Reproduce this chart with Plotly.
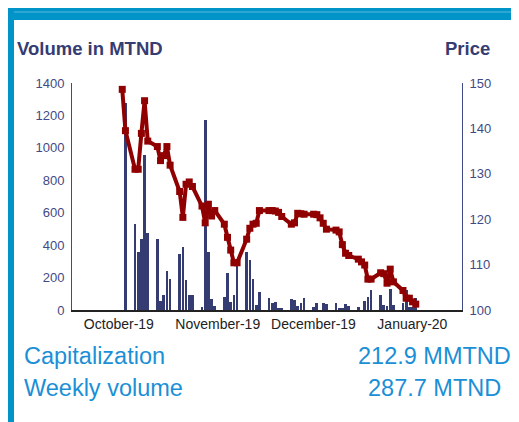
import plotly.graph_objects as go

# daily data (price in TND, volume in thousand TND)
dates = [
    "2019-10-03", "2019-10-04",
    "2019-10-07", "2019-10-08", "2019-10-09", "2019-10-10", "2019-10-11",
    "2019-10-14", "2019-10-15", "2019-10-16", "2019-10-17", "2019-10-18",
    "2019-10-21", "2019-10-22", "2019-10-23", "2019-10-24", "2019-10-25",
    "2019-10-28", "2019-10-29", "2019-10-30", "2019-10-31", "2019-11-01",
    "2019-11-04", "2019-11-05", "2019-11-06", "2019-11-07", "2019-11-08",
    "2019-11-11", "2019-11-12", "2019-11-13", "2019-11-14", "2019-11-15",
    "2019-11-18", "2019-11-19", "2019-11-20", "2019-11-21", "2019-11-22",
    "2019-11-25", "2019-11-26", "2019-11-27", "2019-11-28", "2019-11-29",
    "2019-12-02", "2019-12-03", "2019-12-04", "2019-12-05", "2019-12-06",
    "2019-12-09", "2019-12-10", "2019-12-11", "2019-12-12", "2019-12-13",
    "2019-12-16", "2019-12-17", "2019-12-18", "2019-12-19", "2019-12-20",
    "2019-12-23", "2019-12-24", "2019-12-25", "2019-12-26", "2019-12-27",
    "2019-12-30", "2019-12-31", "2020-01-01", "2020-01-02", "2020-01-03",
]
price = [
    148.6, 139.5,
    131.0, 131.0, 138.9, 146.1, 137.2,
    136.0, 132.9, 134.0, 136.0, 131.9,
    126.1, 120.4, 127.7, 128.2, 127.2,
    122.9, 119.2, 123.3, 120.7, 121.9,
    118.9, 116.0, 113.2, 110.4, 110.4,
    115.6, 118.0, 118.9, 119.1, 121.9,
    121.9, 121.9, 121.8, 121.5, 120.6,
    118.9, 119.2, 121.3, 121.2, 121.1,
    121.1, 121.0, 120.3, 119.1, 117.8,
    117.6, 117.2, 114.4, 112.5, 112.0,
    111.2, 110.6, 109.9, 106.8, 106.8,
    108.2, 108.0, 105.9, 109.0, 106.2,
    104.3, 102.6, 102.6, 101.8, 101.3,
]
volume = [
    0, 1279,
    531, 358, 436, 956, 473,
    436, 58, 92, 241, 189,
    345, 389, 185, 92, 92,
    20, 1172, 360, 68, 25,
    82, 230, 51, 92, 290,
    360, 306, 193, 31, 113,
    74, 45, 51, 10, 10,
    70, 62, 25, 41, 72,
    20, 45, 0, 45, 40,
    45, 10, 10, 40, 25,
    16, 0, 56, 78, 123,
    92, 31, 25, 128, 31,
    41, 123, 20, 16, 72,
]

capitalization = "212.9 MMTND"
weekly_volume = "287.7 MTND"

NAVY = "#353c72"
TICK = "#3f4a86"
RED = "#900000"
FRAME = "#0094c8"
CYAN = "#1b8fd6"
FONT = "Liberation Sans, Arial, sans-serif"

# the page body adds an 8px margin, so positions below are given in
# window pixels and shifted back by OFF
OFF = 8
W, H = 519 - OFF, 422 - OFF
L, R, T, B = 72, 462, 83, 310


def px(x):
    return (x - L) / (R - L)


def py(y):
    return (B - y) / (B - T)


fig = go.Figure()

fig.add_trace(go.Bar(
    x=dates, y=volume,
    width=0.85 * 86400000,
    marker=dict(color=NAVY, line=dict(width=0)),
    name="Volume",
))

fig.add_trace(go.Scatter(
    x=dates, y=price,
    yaxis="y2",
    mode="lines+markers",
    line=dict(color=RED, width=4),
    marker=dict(color=RED, size=7, symbol="square"),
    name="Price",
))

# page decoration: top band and left bar
shapes = []


def rect(x0, y0, x1, y1, color):
    shapes.append(dict(type="rect", xref="paper", yref="paper",
                       x0=px(x0), x1=px(x1), y0=py(y0), y1=py(y1),
                       fillcolor=color, line=dict(width=0), layer="below"))


rect(0, 4, 519, 20, FRAME)
rect(0, 11.5, 519, 12.5, "#5ab8de")
rect(7.5, 0, 14, 422, FRAME)

annotations = [
    dict(text="<b>Volume in MTND</b>", x=px(15), y=py(49), xanchor="left", yanchor="middle",
         font=dict(size=18.5, color=NAVY)),
    dict(text="<b>Price</b>", x=px(492), y=py(49), xanchor="right", yanchor="middle",
         font=dict(size=18.5, color=NAVY)),
    dict(text="Capitalization", x=px(22), y=py(356), xanchor="left", yanchor="middle",
         font=dict(size=23.5, color=CYAN)),
    dict(text=capitalization, x=px(434), y=py(356), xanchor="center", yanchor="middle",
         font=dict(size=23.5, color=CYAN)),
    dict(text="Weekly volume", x=px(22), y=py(388), xanchor="left", yanchor="middle",
         font=dict(size=23.5, color=CYAN)),
    dict(text=weekly_volume, x=px(434), y=py(388), xanchor="center", yanchor="middle",
         font=dict(size=23.5, color=CYAN)),
]
for a in annotations:
    a.update(xref="paper", yref="paper", showarrow=False)

fig.update_layout(
    width=W, height=H,
    margin=dict(l=L - OFF, r=519 - R, t=T - OFF, b=422 - B, pad=0),
    paper_bgcolor="white", plot_bgcolor="white",
    font=dict(family=FONT, color=TICK),
    showlegend=False,
    bargap=0,
    xaxis=dict(
        type="date",
        range=["2019-09-17 06:00", "2020-01-17 12:00"],
        tick0="2019-10-01", dtick="M1", tickformat="%B-%y",
        showgrid=False, zeroline=False,
        showline=True, linecolor="#222222", linewidth=1.5,
        ticks="", ticklabelshift=3,
        tickfont=dict(size=14, color="#222222"),
    ),
    yaxis=dict(
        range=[0, 1400], dtick=200,
        showgrid=False, zeroline=False,
        showline=True, linecolor=TICK, linewidth=1,
        ticks="outside", ticklen=4, tickcolor="rgba(0,0,0,0)",
        tickfont=dict(size=13, color=TICK),
    ),
    yaxis2=dict(
        range=[100, 150], dtick=10,
        overlaying="y", side="right",
        showgrid=False, zeroline=False,
        showline=True, linecolor=TICK, linewidth=1,
        ticks="outside", ticklen=4, tickcolor="rgba(0,0,0,0)",
        tickfont=dict(size=13, color=TICK),
    ),
    shapes=shapes,
    annotations=annotations,
)

fig.write_html("out.html")
